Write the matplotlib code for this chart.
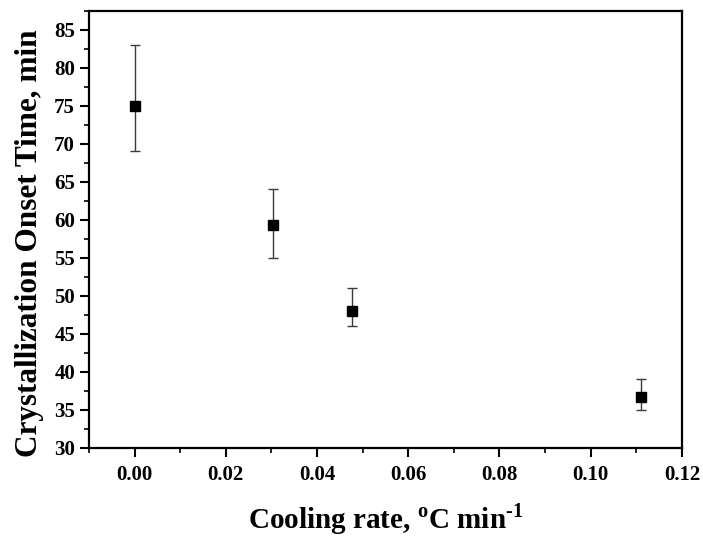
import matplotlib
matplotlib.use("Agg")
import matplotlib.pyplot as plt
from matplotlib.ticker import MultipleLocator

plt.rcParams['font.family'] = ['Liberation Serif', 'DejaVu Serif']
plt.rcParams['font.weight'] = 'bold'
plt.rcParams['mathtext.fontset'] = 'custom'
plt.rcParams['mathtext.rm'] = 'Liberation Serif:bold'
plt.rcParams['mathtext.bf'] = 'Liberation Serif:bold'

# data
cooling_rate = [0.0, 0.0303, 0.0476, 0.1111]
onset_time = [75.0, 59.3, 48.0, 36.6]
err_low = [69.0, 55.0, 46.0, 35.0]
err_high = [83.0, 64.0, 51.0, 39.0]

yerr = [[v - lo for v, lo in zip(onset_time, err_low)],
        [hi - v for v, hi in zip(onset_time, err_high)]]

fig = plt.figure(figsize=(7.03, 5.36), dpi=100)
ax = fig.add_axes([0.1266, 0.165, 0.8434, 0.815])

ax.errorbar(cooling_rate, onset_time, yerr=yerr, fmt='s', color='black',
            markersize=7, ecolor='#3a3a3a', elinewidth=1.0, capsize=3.3,
            capthick=1.0, zorder=3)

ax.set_xlim(-0.01, 0.12)
ax.set_ylim(30, 87.5)
ax.xaxis.set_major_locator(MultipleLocator(0.02))
ax.xaxis.set_minor_locator(MultipleLocator(0.01))
ax.yaxis.set_major_locator(MultipleLocator(5))
ax.yaxis.set_minor_locator(MultipleLocator(2.5))
ax.xaxis.set_major_formatter(plt.FormatStrFormatter('%.2f'))

for s in ax.spines.values():
    s.set_linewidth(1.6)
ax.tick_params(which='major', direction='out', length=6.5, width=1.5,
               labelsize=15, top=False, right=False)
ax.tick_params(axis='x', which='major', pad=6)
ax.tick_params(which='minor', direction='out', length=3.3, width=1.2,
               top=False, right=False)

# hyphen (U+2010) so the superscript reads "-1" rather than a long minus
ax.set_xlabel('Cooling rate, $^{\\mathregular{o}}$C min$^{\\mathregular{\u20101}}$',
              fontsize=21, fontweight='bold', labelpad=12)
ax.set_ylabel('Crystallization Onset Time, min', fontsize=22.5,
              fontweight='bold')
ax.yaxis.set_label_coords(-0.076, 0.468)

fig.savefig('out.png', dpi=100)
